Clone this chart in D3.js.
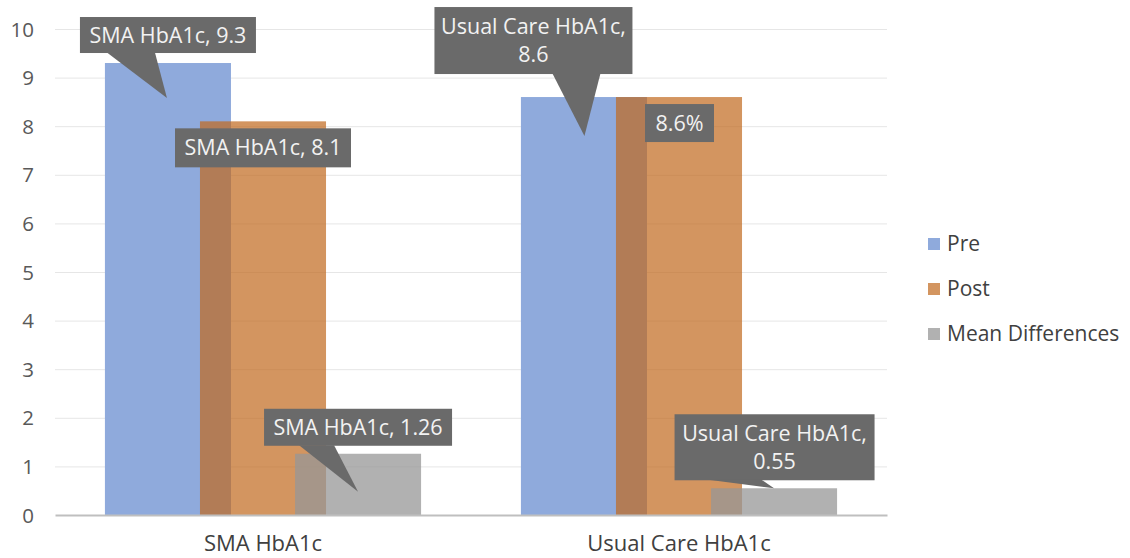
<!DOCTYPE html>
<html>
<head>
<meta charset="utf-8">
<script src="https://cdn.jsdelivr.net/npm/d3@7"></script>
<style>
  html, body { margin: 0; padding: 0; background: #ffffff; }
  svg { display: block; font-family: "Open Sans", "Noto Sans", sans-serif; }
</style>
</head>
<body>
<svg id="chart" width="1130" height="558"></svg>
<script>
// ---- data ----
const categories = ["SMA HbA1c", "Usual Care HbA1c"];
const seriesNames = ["Pre", "Post", "Mean Differences"];
const preValues = [9.3, 8.6];
const postValues = [8.1, 8.6];
const diffValues = [1.26, 0.55];
const yTickValues = [0, 1, 2, 3, 4, 5, 6, 7, 8, 9, 10];
const labelTexts = [
  ["SMA HbA1c, 9.3"],
  ["SMA HbA1c, 8.1"],
  ["SMA HbA1c, 1.26"],
  ["Usual Care HbA1c,", "8.6"],
  ["8.6%"],
  ["Usual Care HbA1c,", "0.55"]
];

// ---- styles / layout ----
const W = 1130, H = 558;
const plot = { left: 55, right: 887, top: 29, bottom: 515 };
const colors = { "Pre": "#8faadc", "Post": "#c0681c", "Mean Differences": "#979797" };
const opac = { "Pre": 1, "Post": 0.7, "Mean Differences": 0.75 };
const tickFont = 20.5, labelFont = 21.5, catFont = 22, legendFont = 21;

const svg = d3.select("#chart");

const x0 = d3.scaleBand().domain(categories).range([plot.left, plot.right]).paddingInner(0).paddingOuter(0);
const y = d3.scaleLinear().domain([0, 10]).range([plot.bottom, plot.top]);
const barW = x0.bandwidth() * 0.303;
const x1 = d3.scalePoint().domain(seriesNames).range([-x0.bandwidth() * 0.2285, x0.bandwidth() * 0.2285]);

const valuesBySeries = { "Pre": preValues, "Post": postValues, "Mean Differences": diffValues };

// gridlines + y tick labels
const yAxis = d3.axisLeft(y).tickValues(yTickValues).tickSize(-(plot.right - plot.left)).tickFormat(d3.format("d"));
const gy = svg.append("g").attr("transform", `translate(${plot.left},0)`).call(yAxis);
gy.select(".domain").remove();
gy.selectAll(".tick line").attr("stroke", "#e6e6e6").attr("stroke-width", 1);
gy.selectAll(".tick text")
  .attr("x", -21).attr("dy", "0.35em")
  .attr("fill", "#595959").attr("font-size", tickFont).attr("font-family", "Open Sans");
gy.selectAll(".tick").filter(d => d === 0).select("line").attr("stroke", "none");

// bars
const data = [];
seriesNames.forEach(s => {
  categories.forEach((c, i) => data.push({ series: s, cat: c, i, value: valuesBySeries[s][i] }));
});
svg.append("g").selectAll("rect").data(data).join("rect")
  .attr("x", d => x0(d.cat) + x0.bandwidth() / 2 + x1(d.series) - barW / 2)
  .attr("y", d => y(d.value))
  .attr("width", barW)
  .attr("height", d => y(0) - y(d.value))
  .attr("fill", d => colors[d.series])
  .attr("fill-opacity", d => opac[d.series]);

// baseline + category labels
const xAxis = d3.axisBottom(x0).tickSize(0);
const gx = svg.append("g").attr("transform", `translate(0,${y(0)})`).call(xAxis);
gx.select(".domain").attr("stroke", "#bfbfbf").attr("stroke-width", 2);
gx.selectAll(".tick text").attr("y", 20).attr("dy", "0.71em")
  .attr("fill", "#404040").attr("font-size", catFont).attr("font-family", "Open Sans");

// callouts (positions relative to top-center of the bar they label)
const callouts = [
  { series: "Pre", i: 0, text: labelTexts[0], dx: 0, dy: -28, w: 176, h: 36, ptr: [-61, -13, -1, 35] },
  { series: "Post", i: 0, text: labelTexts[1], dx: 0, dy: 26.5, w: 176, h: 39, ptr: null },
  { series: "Mean Differences", i: 0, text: labelTexts[2], dx: 0, dy: -26.5, w: 188, h: 37, ptr: [-59, -24, 0, 38] },
  { series: "Pre", i: 1, text: labelTexts[3], dx: -50.5, dy: -56.5, w: 198, h: 67, ptr: [-31.5, 16.5, 0.5, 39] },
  { series: "Post", i: 1, text: labelTexts[4], dx: 0.5, dy: 26, w: 69, h: 38, ptr: null },
  { series: "Mean Differences", i: 1, text: labelTexts[5], dx: 0.5, dy: -41, w: 200, h: 66, ptr: [-65.5, -12.5, 0, 0] }
];
const gl = svg.append("g");
callouts.forEach(c => {
  const bx = x0(categories[c.i]) + x0.bandwidth() / 2 + x1(c.series);
  const by = y(valuesBySeries[c.series][c.i]);
  const cx = bx + c.dx, cy = by + c.dy;
  const g = gl.append("g");
  g.append("rect").attr("x", cx - c.w / 2).attr("y", cy - c.h / 2).attr("width", c.w).attr("height", c.h).attr("fill", "#6a6a6a");
  if (c.ptr) {
    const bot = cy + c.h / 2 - 0.5;
    g.append("polygon")
      .attr("points", [[bx + c.ptr[0], bot], [bx + c.ptr[2], by + c.ptr[3]], [bx + c.ptr[1], bot]].map(p => p.join(",")).join(" "))
      .attr("fill", "#6a6a6a");
  }
  const lh = 28;
  const n = c.text.length;
  c.text.forEach((t, k) => {
    g.append("text").attr("x", cx).attr("y", cy + (k - (n - 1) / 2) * lh)
      .attr("dy", "0.35em").attr("text-anchor", "middle")
      .attr("fill", "#f2f2f2").attr("font-size", labelFont).attr("font-family", "Open Sans")
      .text(t);
  });
});

// legend
const legend = svg.append("g").attr("transform", "translate(928,244)");
const li = legend.selectAll("g").data(seriesNames).join("g").attr("transform", (d, i) => `translate(0,${i * 45})`);
li.append("rect").attr("x", 0).attr("y", -6).attr("width", 12).attr("height", 12)
  .attr("fill", d => colors[d]).attr("fill-opacity", d => opac[d]);
li.append("text").attr("x", 19).attr("y", 0).attr("dy", "0.35em")
  .attr("fill", "#404040").attr("font-size", legendFont).attr("font-family", "Open Sans").text(d => d);
</script>
</body>
</html>
